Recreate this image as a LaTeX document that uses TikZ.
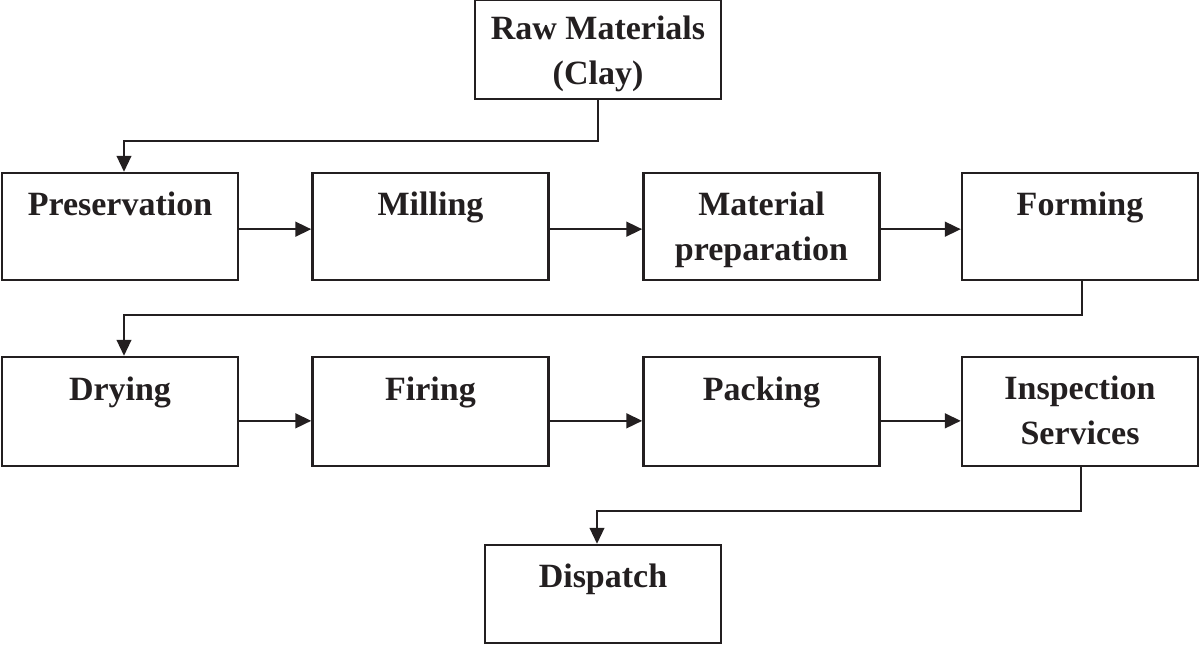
\documentclass[tikz,border=0pt]{standalone}
\usepackage{fontspec}
\setmainfont{Liberation Serif}
\usetikzlibrary{arrows.meta}
\definecolor{ink}{HTML}{231F20}
\begin{document}
\begin{tikzpicture}[x=0.75pt,y=-0.75pt,
  box/.style={draw=ink, line width=1.8pt, minimum width=177pt, minimum height=80.25pt, inner sep=0pt},
  rowtwo/.style={minimum height=81.75pt},
  txt/.style={anchor=base, align=center, inner sep=0pt, text=ink,
    font=\bfseries\fontsize{25.5pt}{33.75pt}\selectfont},
  arr/.style={draw=ink, line width=1.9pt, -{Triangle[length=12pt,width=11pt]}},
  link/.style={draw=ink, line width=1.5pt, -{Triangle[length=12pt,width=11pt]}}]
\useasboundingbox (0,0) rectangle (1200,644);
% boxes
\node[box, minimum width=184.5pt, minimum height=74.25pt] (raw) at (598,49.5) {};
\node[box] (pres) at (120,226.5) {};
\node[box] (mill) at (430.5,226.5) {};
\node[box] (mat) at (761.5,226.5) {};
\node[box] (form) at (1080,226.5) {};
\node[box, rowtwo] (dry) at (120,411.5) {};
\node[box, rowtwo] (fire) at (430.5,411.5) {};
\node[box, rowtwo] (pack) at (761.5,411.5) {};
\node[box, rowtwo] (insp) at (1080,411.5) {};
\node[box, minimum height=73.5pt] (disp) at (603,594) {};
% texts (base anchor = baseline of the last line)
\node[txt] (traw) at ([yshift=-64.5pt]raw.north) {Raw Materials\\(Clay)};
\node[txt] (tpres) at ([yshift=-33pt]pres.north) {Preservation};
\node[txt] (tmill) at ([yshift=-33pt]mill.north) {Milling};
\node[txt] (tmat) at ([yshift=-66.75pt]mat.north) {Material\\preparation};
\node[txt] (tform) at ([yshift=-33pt]form.north) {Forming};
\node[txt] (tdry) at ([yshift=-33.5pt]dry.north) {Drying};
\node[txt] (tfire) at ([yshift=-33.5pt]fire.north) {Firing};
\node[txt] (tpack) at ([yshift=-33.5pt]pack.north) {Packing};
\node[txt] (tinsp) at ([yshift=-66.5pt]insp.north) {Inspection\\Services};
\node[txt] (tdisp) at ([yshift=-32.5pt]disp.north) {Dispatch};
% connectors
\draw[link] (raw.south) -- ++(0,41) -| ([xshift=3pt]pres.north);
\draw[arr] ([yshift=-2pt]pres.east) -- ([yshift=-2pt]mill.west);
\draw[arr] ([yshift=-2pt]mill.east) -- ([yshift=-2pt]mat.west);
\draw[arr] ([yshift=-2pt]mat.east) -- ([yshift=-2pt]form.west);
\draw[link] ([xshift=1.5pt]form.south) -- ++(0,34) -| ([xshift=3pt]dry.north);
\draw[arr] ([yshift=-7pt]dry.east) -- ([yshift=-7pt]fire.west);
\draw[arr] ([yshift=-7pt]fire.east) -- ([yshift=-7pt]pack.west);
\draw[arr] ([yshift=-7pt]pack.east) -- ([yshift=-7pt]insp.west);
\draw[link] ([xshift=1pt]insp.south) -- ++(0,44) -| ([xshift=-4.5pt]disp.north);
\end{tikzpicture}
\end{document}
